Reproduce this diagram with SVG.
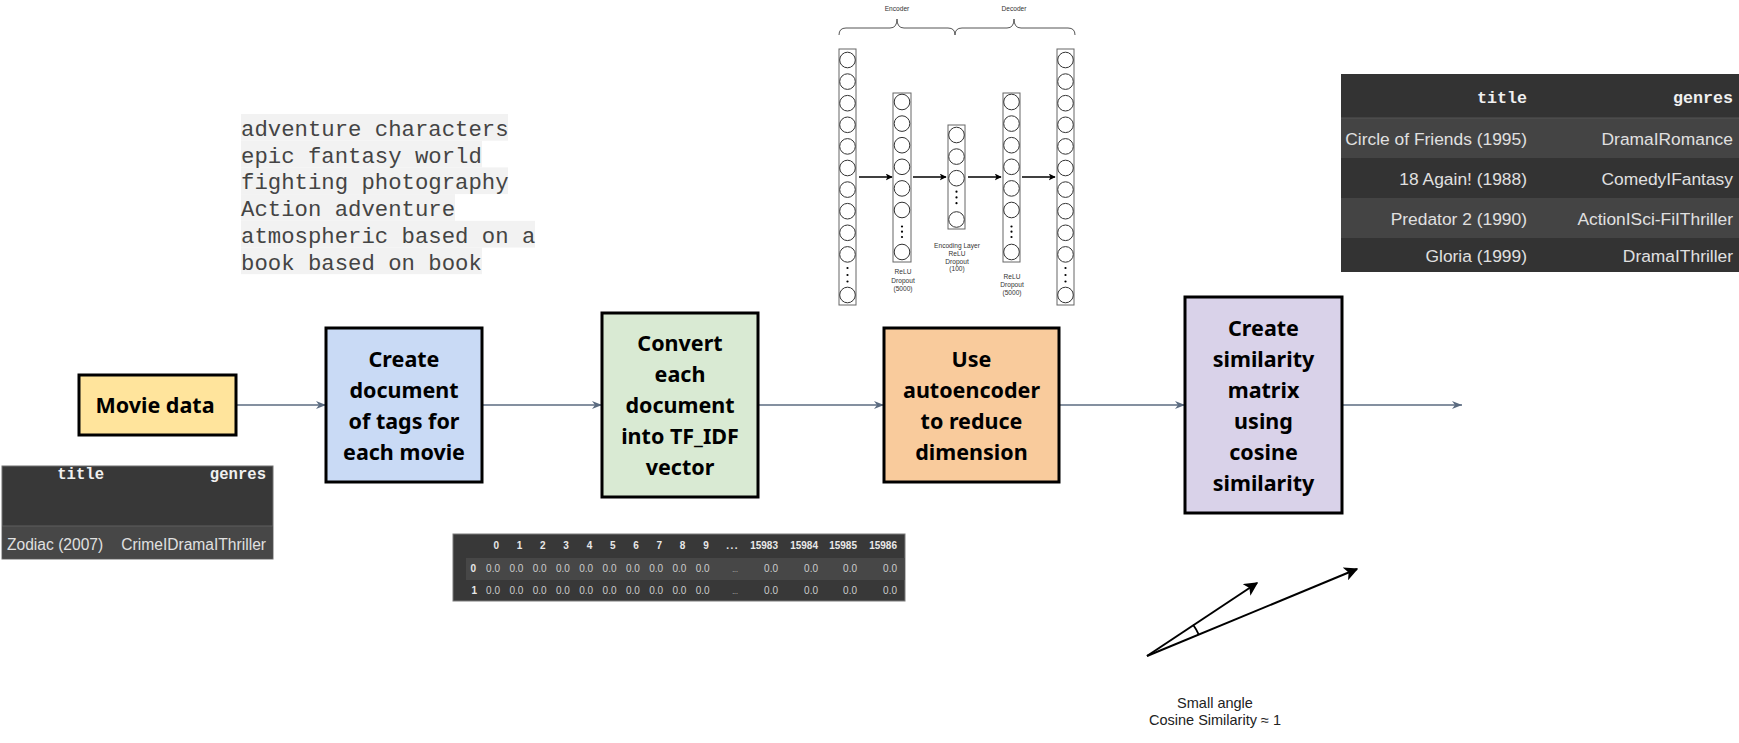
<svg xmlns="http://www.w3.org/2000/svg" width="1739" height="743" viewBox="0 0 1739 743">
<style>
.box{stroke:#000;stroke-width:3}
.bt{font-family:"Noto Sans","Open Sans",sans-serif;font-weight:bold;font-size:21.5px;fill:#000;text-anchor:middle}
.edge{stroke:#5b6b80;stroke-width:1.5;fill:none}
.mono{font-family:"Liberation Mono","Courier New",monospace;font-size:22.3px;fill:#444}
.tb{font-family:"Liberation Sans",Arial,sans-serif;fill:#e0e0e0}
.th{font-family:"Liberation Mono","Courier New",monospace;font-weight:bold;fill:#f0f0f0;text-anchor:end}
.lay{fill:#fff;stroke:#666;stroke-width:1}
.neu{fill:#fff;stroke:#333;stroke-width:1}
.al{font-family:"Liberation Sans",Arial,sans-serif;font-size:6.6px;fill:#333;text-anchor:middle}
.tf{font-family:"Liberation Sans",Arial,sans-serif;font-size:10px;fill:#cccccc;text-anchor:end}
.tfh{font-weight:bold;fill:#e8e8e8}
</style>
<defs>
<marker id="ar" viewBox="0 0 10 8" refX="10" refY="4" markerWidth="10" markerHeight="8" markerUnits="userSpaceOnUse" orient="auto">
<path d="M0,0 L10,4 L0,8 L3,4 Z" fill="#5b6b80"/>
</marker>
<marker id="blk" viewBox="0 0 10 10" refX="9" refY="5" markerWidth="7" markerHeight="7" markerUnits="userSpaceOnUse" orient="auto">
<path d="M0,0 L10,5 L0,10 L2.5,5 Z" fill="#000"/>
</marker>
<marker id="blk2" viewBox="0 0 10 10" refX="9" refY="5" markerWidth="14" markerHeight="14" markerUnits="userSpaceOnUse" orient="auto">
<path d="M0,0 L10,5 L0,10 L2.5,5 Z" fill="#000"/>
</marker>
</defs>
<rect width="1739" height="743" fill="#fff"/>

<g id="connectors">
<line class="edge" x1="236" y1="405" x2="326" y2="405" marker-end="url(#ar)"/>
<line class="edge" x1="482" y1="405" x2="602" y2="405" marker-end="url(#ar)"/>
<line class="edge" x1="758" y1="405" x2="884" y2="405" marker-end="url(#ar)"/>
<line class="edge" x1="1059" y1="405" x2="1185" y2="405" marker-end="url(#ar)"/>
<line class="edge" x1="1342" y1="405" x2="1462" y2="405" marker-end="url(#ar)"/>
</g>

<g id="movie-data">
<rect class="box" x="79" y="375" width="157" height="60" fill="#ffe49c"/>
<text class="bt" x="155" y="413" font-size="22.5">Movie data</text>
</g>

<g id="create-document">
<rect class="box" x="326" y="328" width="156" height="154" fill="#c9daf5"/>
<text class="bt" x="404" y="366.5">Create</text>
<text class="bt" x="404" y="397.5">document</text>
<text class="bt" x="404" y="428.5">of tags for</text>
<text class="bt" x="404" y="459.5">each movie</text>
</g>

<g id="convert-tfidf">
<rect class="box" x="602" y="313" width="156" height="184" fill="#d9ead3"/>
<text class="bt" x="680" y="351">Convert</text>
<text class="bt" x="680" y="382">each</text>
<text class="bt" x="680" y="413">document</text>
<text class="bt" x="680" y="444">into TF_IDF</text>
<text class="bt" x="680" y="475">vector</text>
</g>

<g id="autoencoder-step">
<rect class="box" x="884" y="328" width="175" height="154" fill="#f9cb9c"/>
<text class="bt" x="971.5" y="366.5">Use</text>
<text class="bt" x="971.5" y="397.5">autoencoder</text>
<text class="bt" x="971.5" y="428.5">to reduce</text>
<text class="bt" x="971.5" y="459.5">dimension</text>
</g>

<g id="similarity-matrix">
<rect class="box" x="1185" y="297" width="157" height="216" fill="#d9d2e9"/>
<text class="bt" x="1263.5" y="335.5">Create</text>
<text class="bt" x="1263.5" y="366.5">similarity</text>
<text class="bt" x="1263.5" y="397.5">matrix</text>
<text class="bt" x="1263.5" y="428.5">using</text>
<text class="bt" x="1263.5" y="459.5">cosine</text>
<text class="bt" x="1263.5" y="490.5">similarity</text>
</g>

<g id="tags-document">
<rect x="241" y="114" width="267" height="26.7" fill="#f2f2f2"/>
<rect x="241" y="140.7" width="241" height="26.7" fill="#f2f2f2"/>
<rect x="241" y="167.4" width="267" height="26.7" fill="#f2f2f2"/>
<rect x="241" y="194.1" width="214" height="26.7" fill="#f2f2f2"/>
<rect x="241" y="220.8" width="294" height="26.7" fill="#f2f2f2"/>
<rect x="241" y="247.5" width="241" height="26.7" fill="#f2f2f2"/>
<text class="mono" x="241" y="136">adventure characters</text>
<text class="mono" x="241" y="162.7">epic fantasy world</text>
<text class="mono" x="241" y="189.4">fighting photography</text>
<text class="mono" x="241" y="216.1">Action adventure</text>
<text class="mono" x="241" y="242.8">atmospheric based on a</text>
<text class="mono" x="241" y="269.5">book based on book</text>
</g>

<g id="movie-table">
<rect x="2" y="466" width="271" height="93" fill="#383838" stroke="#707070" stroke-width="1"/>
<rect x="2.5" y="526" width="270" height="32.5" fill="#474747"/>
<line x1="2" y1="526" x2="273" y2="526" stroke="#5e5e5e" stroke-width="1"/>
<text class="th" x="104" y="479" font-size="15.6">title</text>
<text class="th" x="266" y="479" font-size="15.6">genres</text>
<text class="tb" x="7" y="549.5" font-size="15.6">Zodiac (2007)</text>
<text class="tb" x="266" y="549.5" font-size="15.6" text-anchor="end">CrimeIDramaIThriller</text>
</g>

<g id="tfidf-table">
<rect x="453" y="534" width="452" height="67" fill="#383838" stroke="#7a7a7a" stroke-width="1"/>
<rect x="466" y="558" width="438.5" height="22" fill="#474747"/>
<g class="tf tfh">
<text x="499" y="549">0</text><text x="522.3" y="549">1</text><text x="545.6" y="549">2</text><text x="568.9" y="549">3</text><text x="592.2" y="549">4</text><text x="615.5" y="549">5</text><text x="638.8" y="549">6</text><text x="662.1" y="549">7</text><text x="685.4" y="549">8</text><text x="708.7" y="549">9</text>
<text x="739" y="549" letter-spacing="1.5">...</text>
<text x="778" y="549">15983</text><text x="818" y="549">15984</text><text x="857" y="549">15985</text><text x="897" y="549">15986</text>
<text x="476" y="572">0</text><text x="477" y="594">1</text>
</g>
<g class="tf">
<text x="500" y="572">0.0</text><text x="523.3" y="572">0.0</text><text x="546.6" y="572">0.0</text><text x="569.9" y="572">0.0</text><text x="593.2" y="572">0.0</text><text x="616.5" y="572">0.0</text><text x="639.8" y="572">0.0</text><text x="663.1" y="572">0.0</text><text x="686.4" y="572">0.0</text><text x="709.7" y="572">0.0</text>
<text x="738" y="572" font-size="7">...</text>
<text x="778" y="572">0.0</text><text x="818" y="572">0.0</text><text x="857" y="572">0.0</text><text x="897" y="572">0.0</text>
<text x="500" y="594">0.0</text><text x="523.3" y="594">0.0</text><text x="546.6" y="594">0.0</text><text x="569.9" y="594">0.0</text><text x="593.2" y="594">0.0</text><text x="616.5" y="594">0.0</text><text x="639.8" y="594">0.0</text><text x="663.1" y="594">0.0</text><text x="686.4" y="594">0.0</text><text x="709.7" y="594">0.0</text>
<text x="738" y="594" font-size="7">...</text>
<text x="778" y="594">0.0</text><text x="818" y="594">0.0</text><text x="857" y="594">0.0</text><text x="897" y="594">0.0</text>
</g>
</g>

<g id="similar-table">
<rect x="1341" y="74" width="398" height="198" fill="#333333"/>
<rect x="1341" y="118" width="398" height="40" fill="#444444"/>
<rect x="1341" y="198" width="398" height="40" fill="#444444"/>
<line x1="1341" y1="118" x2="1739" y2="118" stroke="#555" stroke-width="1"/>
<text class="th" x="1527" y="103" font-size="16.7">title</text>
<text class="th" x="1733" y="103" font-size="16.7">genres</text>
<g class="tb" font-size="17.4" text-anchor="end">
<text x="1527" y="145">Circle of Friends (1995)</text>
<text x="1733" y="145">DramaIRomance</text>
<text x="1527" y="185">18 Again! (1988)</text>
<text x="1733" y="185">ComedyIFantasy</text>
<text x="1527" y="225">Predator 2 (1990)</text>
<text x="1733" y="225">ActionISci-FiIThriller</text>
<text x="1527" y="262">Gloria (1999)</text>
<text x="1733" y="262">DramaIThriller</text>
</g>
</g>

<g id="autoencoder-diagram">
<text class="al" x="897" y="11">Encoder</text>
<text class="al" x="1014" y="11">Decoder</text>
<path d="M839,35 Q839,28 846,28 L890,28 Q897,28 897,19 Q897,28 904,28 L948,28 Q955,28 955,35" fill="none" stroke="#555" stroke-width="1"/>
<path d="M955,35 Q955,28 962,28 L1007,28 Q1014,28 1014,19 Q1014,28 1021,28 L1068,28 Q1075,28 1075,35" fill="none" stroke="#555" stroke-width="1"/>
<g id="layer-input">
<rect class="lay" x="839" y="49" width="17" height="256"/>
<circle class="neu" cx="847.5" cy="60" r="7.8"/><circle class="neu" cx="847.5" cy="81.6" r="7.8"/><circle class="neu" cx="847.5" cy="103.2" r="7.8"/><circle class="neu" cx="847.5" cy="124.8" r="7.8"/><circle class="neu" cx="847.5" cy="146.4" r="7.8"/><circle class="neu" cx="847.5" cy="168" r="7.8"/><circle class="neu" cx="847.5" cy="189.6" r="7.8"/><circle class="neu" cx="847.5" cy="211.2" r="7.8"/><circle class="neu" cx="847.5" cy="232.8" r="7.8"/><circle class="neu" cx="847.5" cy="254.4" r="7.8"/>
<circle cx="847.5" cy="268" r="1.1" fill="#000"/><circle cx="847.5" cy="275" r="1.1" fill="#000"/><circle cx="847.5" cy="281.5" r="1.1" fill="#000"/>
<circle class="neu" cx="847.5" cy="295" r="7.8"/>
</g>
<g id="layer-enc">
<rect class="lay" x="893" y="93" width="18" height="169"/>
<circle class="neu" cx="902" cy="102" r="7.8"/><circle class="neu" cx="902" cy="123.6" r="7.8"/><circle class="neu" cx="902" cy="145.2" r="7.8"/><circle class="neu" cx="902" cy="166.8" r="7.8"/><circle class="neu" cx="902" cy="188.4" r="7.8"/><circle class="neu" cx="902" cy="210" r="7.8"/>
<circle cx="902" cy="226.5" r="1.1" fill="#000"/><circle cx="902" cy="231.7" r="1.1" fill="#000"/><circle cx="902" cy="237" r="1.1" fill="#000"/>
<circle class="neu" cx="902" cy="252" r="7.8"/>
</g>
<g id="layer-code">
<rect class="lay" x="948" y="125" width="17" height="104"/>
<circle class="neu" cx="956.5" cy="135" r="7.8"/><circle class="neu" cx="956.5" cy="156.6" r="7.8"/><circle class="neu" cx="956.5" cy="178.2" r="7.8"/>
<circle cx="956.5" cy="191.7" r="1.1" fill="#000"/><circle cx="956.5" cy="197.4" r="1.1" fill="#000"/><circle cx="956.5" cy="203.2" r="1.1" fill="#000"/>
<circle class="neu" cx="956.5" cy="219.5" r="7.8"/>
</g>
<g id="layer-dec">
<rect class="lay" x="1003" y="93" width="17" height="169"/>
<circle class="neu" cx="1011.5" cy="102" r="7.8"/><circle class="neu" cx="1011.5" cy="123.6" r="7.8"/><circle class="neu" cx="1011.5" cy="145.2" r="7.8"/><circle class="neu" cx="1011.5" cy="166.8" r="7.8"/><circle class="neu" cx="1011.5" cy="188.4" r="7.8"/><circle class="neu" cx="1011.5" cy="210" r="7.8"/>
<circle cx="1011.5" cy="226.5" r="1.1" fill="#000"/><circle cx="1011.5" cy="231.7" r="1.1" fill="#000"/><circle cx="1011.5" cy="237" r="1.1" fill="#000"/>
<circle class="neu" cx="1011.5" cy="252" r="7.8"/>
</g>
<g id="layer-output">
<rect class="lay" x="1057" y="49" width="17" height="256"/>
<circle class="neu" cx="1065.5" cy="60" r="7.8"/><circle class="neu" cx="1065.5" cy="81.6" r="7.8"/><circle class="neu" cx="1065.5" cy="103.2" r="7.8"/><circle class="neu" cx="1065.5" cy="124.8" r="7.8"/><circle class="neu" cx="1065.5" cy="146.4" r="7.8"/><circle class="neu" cx="1065.5" cy="168" r="7.8"/><circle class="neu" cx="1065.5" cy="189.6" r="7.8"/><circle class="neu" cx="1065.5" cy="211.2" r="7.8"/><circle class="neu" cx="1065.5" cy="232.8" r="7.8"/><circle class="neu" cx="1065.5" cy="254.4" r="7.8"/>
<circle cx="1065.5" cy="268" r="1.1" fill="#000"/><circle cx="1065.5" cy="275" r="1.1" fill="#000"/><circle cx="1065.5" cy="281.5" r="1.1" fill="#000"/>
<circle class="neu" cx="1065.5" cy="295" r="7.8"/>
</g>
<g id="ae-arrows" stroke="#000" stroke-width="1.5">
<line x1="859" y1="177" x2="892" y2="177" marker-end="url(#blk)"/>
<line x1="913" y1="177" x2="946" y2="177" marker-end="url(#blk)"/>
<line x1="968" y1="177" x2="1001" y2="177" marker-end="url(#blk)"/>
<line x1="1022" y1="177" x2="1055" y2="177" marker-end="url(#blk)"/>
</g>
<text class="al" x="903" y="274">ReLU</text>
<text class="al" x="903" y="282.5">Dropout</text>
<text class="al" x="903" y="291">(5000)</text>
<text class="al" x="957" y="248">Encoding Layer</text>
<text class="al" x="957" y="256">ReLU</text>
<text class="al" x="957" y="263.5">Dropout</text>
<text class="al" x="957" y="271">(100)</text>
<text class="al" x="1012" y="279">ReLU</text>
<text class="al" x="1012" y="287">Dropout</text>
<text class="al" x="1012" y="295">(5000)</text>
</g>

<g id="cosine-illustration">
<line x1="1147" y1="656" x2="1257" y2="583" stroke="#000" stroke-width="2" marker-end="url(#blk2)"/>
<line x1="1147" y1="656" x2="1357" y2="569" stroke="#000" stroke-width="2" marker-end="url(#blk2)"/>
<path d="M1193.1,624.8 A56,56 0 0 1 1198.9,634.9" fill="none" stroke="#000" stroke-width="1.8"/>
<text x="1215" y="708" font-family="Liberation Sans,Arial,sans-serif" font-size="14.5" fill="#222" text-anchor="middle">Small angle</text>
<text x="1215" y="725" font-family="Liberation Sans,Arial,sans-serif" font-size="14.5" fill="#222" text-anchor="middle">Cosine Similarity ≈ 1</text>
</g>
</svg>
